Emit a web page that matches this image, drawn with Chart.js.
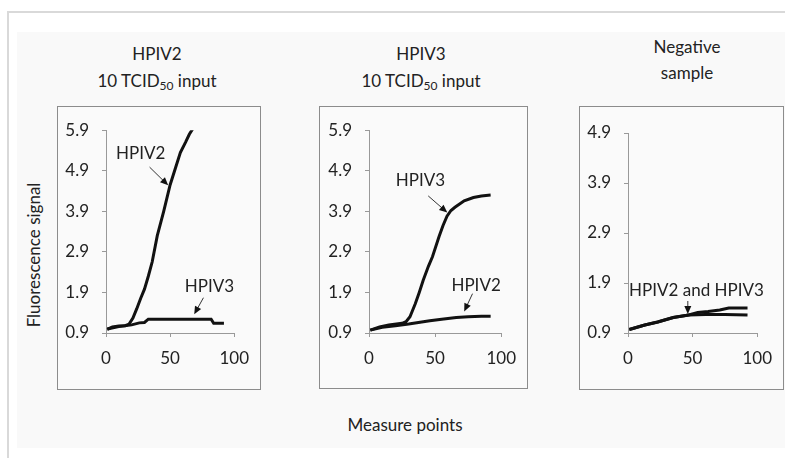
<!DOCTYPE html>
<html>
<head>
<meta charset="utf-8">
<script src="https://cdn.jsdelivr.net/npm/chart.js@4.4.0/dist/chart.umd.min.js"></script>
<style>
  html, body { margin:0; padding:0; background:#ffffff; }
  body { width:785px; height:458px; position:relative; overflow:hidden;
         font-family:Lato,"Liberation Sans",sans-serif; color:#222; }
  #frame { position:absolute; left:7px; top:11px; width:800px; height:460px;
           border-left:2px solid #d9d9d9; border-top:2px solid #d9d9d9; }
  #inner { position:absolute; left:17px; top:32px; width:780px; height:416px; background:#f9f9f9; }
  .box { position:absolute; border:1px solid #8c8c8c; box-sizing:border-box; background:#fafafa; }
  .box canvas { position:absolute; left:0; top:0; }
  .t { position:absolute; transform:translate(-50%,-50%); white-space:nowrap; font-size:17px; }
  .t sub { font-size:12px; vertical-align:-3px; }
  #ylab { position:absolute; left:33px; top:255px; transform:translate(-50%,-50%) rotate(-90deg);
          white-space:nowrap; font-size:17px; }
</style>
</head>
<body>
<div id="frame"></div>
<div id="inner"></div>

<div class="t" style="left:157px;top:53px">HPIV2</div>
<div class="t" style="left:157px;top:81px">10 TCID<sub>50</sub> input</div>
<div class="t" style="left:421px;top:53px">HPIV3</div>
<div class="t" style="left:421px;top:81px">10 TCID<sub>50</sub> input</div>
<div class="t" style="left:687px;top:46px">Negative</div>
<div class="t" style="left:687px;top:72px">sample</div>
<div id="ylab">Fluorescence signal</div>
<div class="t" style="left:405px;top:424px">Measure points</div>

<div class="box" id="b1" style="left:57px;top:106px;width:204px;height:284px"><canvas id="c1"></canvas></div>
<div class="box" id="b2" style="left:319px;top:106px;width:209px;height:283px"><canvas id="c2"></canvas></div>
<div class="box" id="b3" style="left:579px;top:106px;width:205px;height:284px"><canvas id="c3"></canvas></div>

<script>
// ---------- DATA ----------
const xTicks = [0, 50, 100];
const yTicksA = [0.9, 1.9, 2.9, 3.9, 4.9, 5.9];
const yTicksB = [0.9, 1.9, 2.9, 3.9, 4.9];

// Panel 1: HPIV2, 10 TCID50 input
const p1_hpiv2_x = [1, 5, 10, 15, 18, 21, 24, 27, 30, 33, 36, 40, 45, 50, 54, 58, 62, 65, 68];
const p1_hpiv2_y = [0.99, 1.05, 1.07, 1.08, 1.12, 1.27, 1.5, 1.75, 1.98, 2.3, 2.65, 3.3, 3.9, 4.55, 4.95, 5.35, 5.6, 5.8, 5.95];
const p1_hpiv3_x = [1, 10, 20, 26, 30, 33, 50, 70, 82, 84, 92];
const p1_hpiv3_y = [1.0, 1.06, 1.1, 1.15, 1.16, 1.24, 1.24, 1.24, 1.24, 1.14, 1.14];

// Panel 2: HPIV3, 10 TCID50 input
const p2_hpiv3_x = [1, 8, 15, 25, 28, 31, 35, 38, 41, 45, 48, 53, 56, 59, 62, 65, 72, 79, 85, 92];
const p2_hpiv3_y = [0.97, 1.05, 1.1, 1.14, 1.18, 1.3, 1.62, 1.9, 2.2, 2.55, 2.78, 3.28, 3.55, 3.78, 3.92, 4.0, 4.16, 4.24, 4.28, 4.3];
const p2_hpiv2_x = [1, 10, 20, 30, 46, 55, 66, 75, 85, 92];
const p2_hpiv2_y = [0.97, 1.04, 1.08, 1.12, 1.2, 1.24, 1.28, 1.3, 1.31, 1.31];

// Panel 3: Negative sample
const p3_hpiv2_x = [1, 5, 13, 23, 35, 47, 54, 62, 71, 78, 85, 92.5];
const p3_hpiv2_y = [0.97, 1.0, 1.06, 1.12, 1.21, 1.26, 1.31, 1.33, 1.36, 1.4, 1.4, 1.4];
const p3_hpiv3_x = [1, 5, 13, 23, 35, 47, 60, 75, 92.5];
const p3_hpiv3_y = [0.97, 1.0, 1.06, 1.12, 1.21, 1.26, 1.27, 1.27, 1.26];

// Annotation labels (data units): text, label x/y, arrow start x/y, arrow end x/y
const p1_notes = [
  { text: "HPIV2", lx: 27, ly: 5.32, ax: 34, ay: 4.99, bx: 48.5, by: 4.54 },
  { text: "HPIV3", lx: 80.7, ly: 2.05, ax: 76, ay: 1.77, bx: 68.8, by: 1.36 }
];
const p2_notes = [
  { text: "HPIV3", lx: 38.9, ly: 4.66, ax: 44.8, ay: 4.28, bx: 59.2, by: 3.87 },
  { text: "HPIV2", lx: 81, ly: 2.08, ax: 78.3, ay: 1.87, bx: 72, by: 1.43 }
];
const p3_notes = [
  { text: "HPIV2 and HPIV3", lx: 53, ly: 1.74, ax: 46.3, ay: 1.54, bx: 46.3, by: 1.28 }
];

// ---------- CHART ----------
const FONT = "Lato,'Liberation Sans',sans-serif";
const pts = (xs, ys) => xs.map((x, i) => ({ x: x, y: ys[i] }));

const notePlugin = {
  id: 'notes',
  afterDatasetsDraw(chart) {
    const notes = chart.options.plugins.notes.items || [];
    const xs = chart.scales.x, ys = chart.scales.y, ctx = chart.ctx;
    ctx.save();
    notes.forEach(n => {
      ctx.fillStyle = '#222';
      ctx.font = '17px ' + FONT;
      ctx.textAlign = 'center';
      ctx.textBaseline = 'middle';
      ctx.fillText(n.text, xs.getPixelForValue(n.lx), ys.getPixelForValue(n.ly));
      const x1 = xs.getPixelForValue(n.ax), y1 = ys.getPixelForValue(n.ay);
      const x2 = xs.getPixelForValue(n.bx), y2 = ys.getPixelForValue(n.by);
      const ang = Math.atan2(y2 - y1, x2 - x1);
      ctx.strokeStyle = '#333';
      ctx.lineWidth = 1;
      ctx.beginPath(); ctx.moveTo(x1, y1); ctx.lineTo(x2 - 6 * Math.cos(ang), y2 - 6 * Math.sin(ang)); ctx.stroke();
      ctx.fillStyle = '#111';
      ctx.beginPath();
      ctx.moveTo(x2, y2);
      ctx.lineTo(x2 - 8 * Math.cos(ang) + 3.5 * Math.sin(ang), y2 - 8 * Math.sin(ang) - 3.5 * Math.cos(ang));
      ctx.lineTo(x2 - 8 * Math.cos(ang) - 3.5 * Math.sin(ang), y2 - 8 * Math.sin(ang) + 3.5 * Math.cos(ang));
      ctx.closePath(); ctx.fill();
    });
    ctx.restore();
  }
};

function makeChart(id, w, h, area, yTicks, series, notes) {
  const cv = document.getElementById(id);
  cv.width = w; cv.height = h;
  cv.style.width = w + 'px'; cv.style.height = h + 'px';
  return new Chart(cv, {
    type: 'line',
    data: {
      datasets: series.map(s => ({
        label: s.label, data: s.data, borderColor: '#111', borderWidth: 3,
        pointRadius: 0, tension: 0, fill: false
      }))
    },
    options: {
      responsive: false, animation: false, devicePixelRatio: 1,
      layout: { padding: { left: 0, right: area.right, top: area.top, bottom: 0 } },
      plugins: { legend: { display: false }, tooltip: { enabled: false }, notes: { items: notes } },
      scales: {
        x: {
          type: 'linear', min: 0, max: 100,
          afterBuildTicks: sc => { sc.ticks = xTicks.map(v => ({ value: v })); },
          afterFit: sc => { sc.height = area.bottom; },
          grid: { drawOnChartArea: false, drawTicks: true, tickLength: 4, color: '#999' },
          border: { color: '#999', width: 1 },
          ticks: { color: '#222', padding: 11, maxRotation: 0, font: { family: FONT, size: 17 } }
        },
        y: {
          type: 'linear', min: yTicks[0], max: yTicks[yTicks.length - 1],
          afterBuildTicks: sc => { sc.ticks = yTicks.map(v => ({ value: v })); },
          afterFit: sc => { sc.width = area.left; },
          grid: { drawOnChartArea: false, drawTicks: true, tickLength: 4, color: '#999' },
          border: { color: '#999', width: 1 },
          ticks: { color: '#222', padding: 13, font: { family: FONT, size: 17 },
                   callback: v => v.toFixed(1) }
        }
      }
    },
    plugins: [notePlugin]
  });
}

makeChart('c1', 202, 282, { left: 48, top: 21, right: 14, bottom: 56 }, yTicksA, [
  { label: 'HPIV2', data: pts(p1_hpiv2_x, p1_hpiv2_y) },
  { label: 'HPIV3', data: pts(p1_hpiv3_x, p1_hpiv3_y) }
], p1_notes);

makeChart('c2', 207, 281, { left: 49, top: 23, right: 18, bottom: 55 }, yTicksA, [
  { label: 'HPIV3', data: pts(p2_hpiv3_x, p2_hpiv3_y) },
  { label: 'HPIV2', data: pts(p2_hpiv2_x, p2_hpiv2_y) }
], p2_notes);

makeChart('c3', 203, 282, { left: 48, top: 26, right: 15, bottom: 56 }, yTicksB, [
  { label: 'HPIV2', data: pts(p3_hpiv2_x, p3_hpiv2_y) },
  { label: 'HPIV3', data: pts(p3_hpiv3_x, p3_hpiv3_y) }
], p3_notes);
</script>
</body>
</html>
